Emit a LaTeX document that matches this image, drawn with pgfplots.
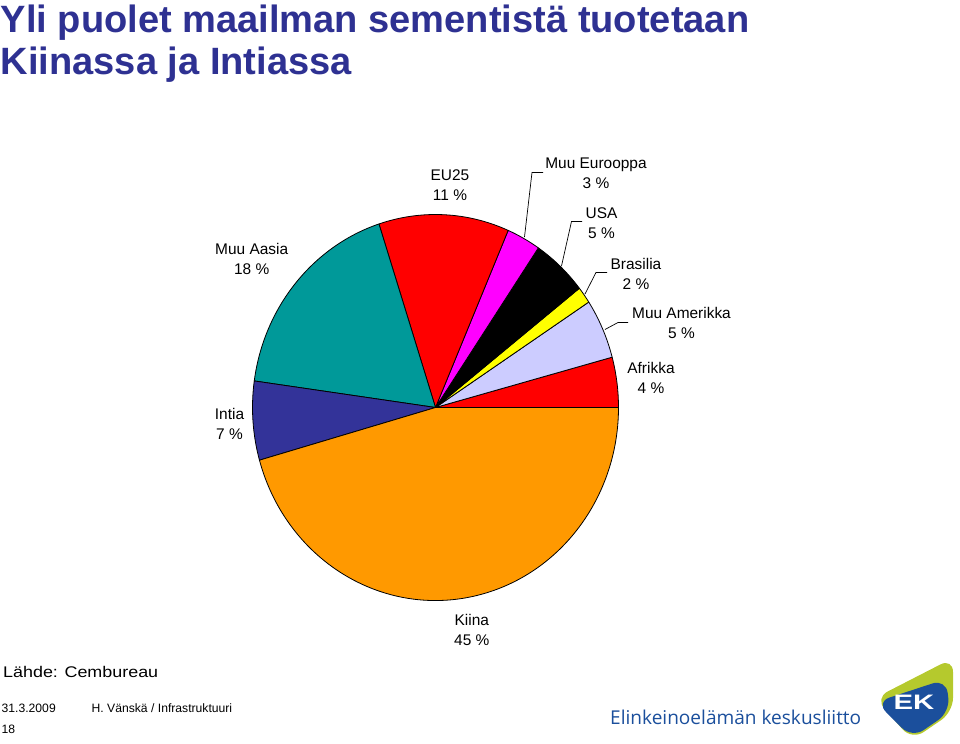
\documentclass[border=0pt]{standalone}
\usepackage{pgfplots}
\pgfplotsset{compat=1.18}
\usepackage{graphicx}
\usepackage{fontspec}
\setmainfont{Liberation Sans}
\newfontfamily\logofont{Open Sans}
\definecolor{titleblue}{HTML}{2E3192}
\definecolor{cAfr}{HTML}{FF0000}
\definecolor{cMAm}{HTML}{CCCCFF}
\definecolor{cBra}{HTML}{FFFF00}
\definecolor{cUSA}{HTML}{000000}
\definecolor{cMEu}{HTML}{FF00FF}
\definecolor{cEU}{HTML}{FF0000}
\definecolor{cMAs}{HTML}{009999}
\definecolor{cInt}{HTML}{333399}
\definecolor{cKii}{HTML}{FF9900}
\definecolor{ekblue}{HTML}{1B4F9C}
\definecolor{ekgreen}{HTML}{B5C92D}

\def\cx{435.5}\def\cy{407.5}
\gdef\cum{0}
% #1 = share in percent, #2 = colour
\newcommand\pieslice[2]{%
  \pgfmathsetmacro\sA{\cum*3.6}%
  \pgfmathsetmacro\sB{(\cum+#1)*3.6}%
  \pgfmathsetmacro\newcum{\cum+#1}%
  \xdef\cum{\newcum}%
  \edef\tmp{\noexpand\filldraw[fill=#2,draw=black,line width=0.8bp,line join=round]
    (axis cs:\cx,\cy) -- (axis cs:{\cx+183*cos(\sA)},{\cy-193*sin(\sA)})
    arc[start angle=\sA,end angle=\sB,x radius=183bp,y radius=193bp] -- cycle;}%
  \tmp}
\newcommand\lblfont{\fontsize{15.5}{18}\selectfont}
\newcommand\lbl[4]{%
  \node[anchor=base,inner sep=0,font=\lblfont] at (axis cs:#1,#2) {#3};
  \node[anchor=base,inner sep=0,font=\lblfont] at (axis cs:#1,{#2+20.5}) {#4};}

\begin{document}
\begin{tikzpicture}
\begin{axis}[
  hide axis, clip=false, scale only axis,
  width=960bp, height=744bp,
  xmin=0, xmax=960, ymin=0, ymax=744,
  y dir=reverse, enlargelimits=false]
% pie slices (share in %), counter-clockwise from 3 o'clock
\pieslice{4.2}{cAfr}   % Afrikka
\pieslice{5.0}{cMAm}   % Muu Amerikka
\pieslice{1.4}{cBra}   % Brasilia
\pieslice{4.9}{cUSA}   % USA
\pieslice{3.0}{cMEu}   % Muu Eurooppa
\pieslice{11.5}{cEU}   % EU25
\pieslice{17.8}{cMAs}  % Muu Aasia
\pieslice{6.6}{cInt}   % Intia
\pieslice{45.6}{cKii}  % Kiina

% leader lines
\draw[line width=0.7bp] (axis cs:543,172.5) -- (axis cs:532,172.5) -- (axis cs:524.5,237);
\draw[line width=0.7bp] (axis cs:582,221.5) -- (axis cs:571.5,221.5) -- (axis cs:561.5,266);
\draw[line width=0.7bp] (axis cs:607,272.5) -- (axis cs:596,272.5) -- (axis cs:585,294);
\draw[line width=0.7bp] (axis cs:628,322.5) -- (axis cs:618,322.5) -- (axis cs:605,329.5);

% labels
\lbl{450}{180}{EU25}{11 \%}
\lbl{251.7}{254.3}{Muu Aasia}{18 \%}
\lbl{229.5}{419.3}{Intia}{7 \%}
\lbl{596}{168.3}{Muu Eurooppa}{3 \%}
\lbl{601.5}{218.3}{USA}{5 \%}
\lbl{636}{269}{Brasilia}{2 \%}
\lbl{681.5}{318.3}{Muu Amerikka}{5 \%}
\lbl{651}{373.3}{Afrikka}{4 \%}
\lbl{471.8}{625}{Kiina}{45 \%}

% title
\node[anchor=base west,inner sep=0,text=titleblue,font=\fontsize{38.2}{40}\selectfont\bfseries] at (axis cs:0.5,33) {Yli puolet maailman sementistä tuotetaan};
\node[anchor=base west,inner sep=0,text=titleblue,font=\fontsize{38.2}{40}\selectfont\bfseries] at (axis cs:0.5,75) {Kiinassa ja Intiassa};

% footer
\node[anchor=base west,inner sep=0] at (axis cs:3,677.7) {\scalebox{1.16}[1]{\fontsize{15.5}{18}\selectfont Lähde: Cembureau}};
\node[anchor=base west,inner sep=0,font=\fontsize{12.2}{14}\selectfont] at (axis cs:1.5,712.7) {31.3.2009};
\node[anchor=base west,inner sep=0,font=\fontsize{12.2}{14}\selectfont] at (axis cs:91.5,712.7) {H. Vänskä / Infrastruktuuri};
\node[anchor=base west,inner sep=0,font=\fontsize{12.2}{14}\selectfont] at (axis cs:1.5,733) {18};

% logo
\node[anchor=base west,inner sep=0,text=ekblue] at (axis cs:610,724) {\resizebox{251bp}{!}{\logofont\fontsize{20}{24}\selectfont Elinkeinoelämän keskusliitto}};
\fill[ekgreen,rounded corners=14bp] (axis cs:875,698) -- (axis cs:953,658) -- (axis cs:953,712) -- (axis cs:912,740) -- cycle;
\fill[ekblue,rounded corners=14bp] (axis cs:876,702) -- (axis cs:946,679) -- (axis cs:950,712) -- (axis cs:912,738) -- cycle;
\node[text=white,font=\bfseries\fontsize{21}{22}\selectfont] at (axis cs:914,702) {\scalebox{1.4}[1]{EK}};
\end{axis}
\pgfresetboundingbox
\path[use as bounding box] (0,0) rectangle (960bp,744bp);
\end{tikzpicture}
\end{document}
